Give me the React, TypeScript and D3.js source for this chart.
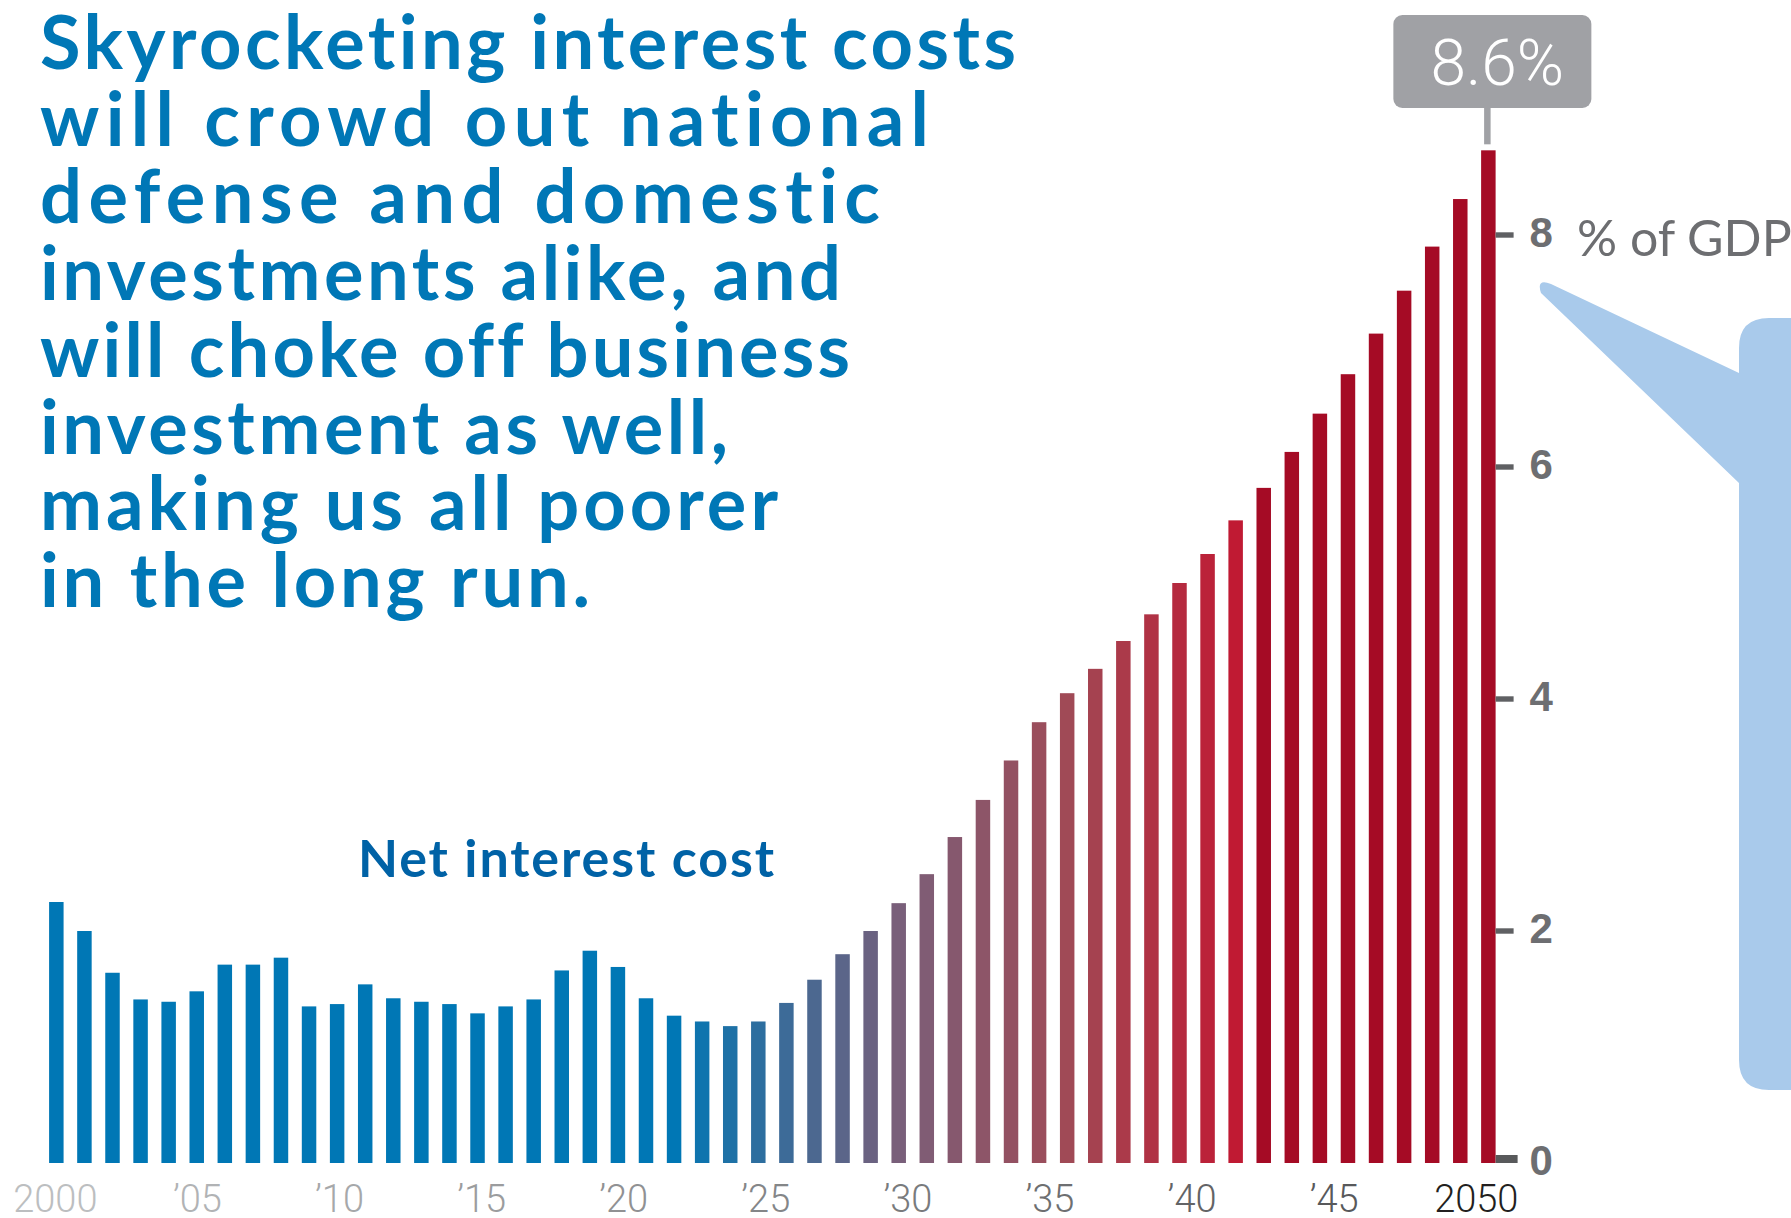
import React from "react";
import * as d3 from "d3";

// ---------- data ----------
const years = [
  2000, 2001, 2002, 2003, 2004, 2005, 2006, 2007, 2008, 2009,
  2010, 2011, 2012, 2013, 2014, 2015, 2016, 2017, 2018, 2019,
  2020, 2021, 2022, 2023, 2024, 2025, 2026, 2027, 2028, 2029,
  2030, 2031, 2032, 2033, 2034, 2035, 2036, 2037, 2038, 2039,
  2040, 2041, 2042, 2043, 2044, 2045, 2046, 2047, 2048, 2049,
  2050, 2051,
];
// Net interest cost, % of GDP
const netInterest = [
  2.25, 2.0, 1.64, 1.41, 1.39, 1.48, 1.71, 1.71, 1.77, 1.35,
  1.37, 1.54, 1.42, 1.39, 1.37, 1.29, 1.35, 1.41, 1.66, 1.83,
  1.69, 1.42, 1.27, 1.22, 1.18, 1.22, 1.38, 1.58, 1.8, 2.0,
  2.24, 2.49, 2.81, 3.13, 3.47, 3.8, 4.05, 4.26, 4.5, 4.73,
  5.0, 5.25, 5.54, 5.82, 6.13, 6.46, 6.8, 7.15, 7.52, 7.9,
  8.31, 8.73,
];
const xTickYears = [2000, 2005, 2010, 2015, 2020, 2025, 2030, 2035, 2040, 2045, 2050];
const xTickLabels = ["2000", "\u201905", "\u201910", "\u201915", "\u201920", "\u201925", "\u201930", "\u201935", "\u201940", "\u201945", "2050"];
const yTicks = [0, 2, 4, 6, 8];
const yUnitLabel = "% of GDP";
const calloutLabel = "8.6%";
const seriesLabel = "Net interest cost";
const titleLines = [
  "Skyrocketing interest costs",
  "will crowd out national",
  "defense and domestic",
  "investments alike, and",
  "will choke off business",
  "investment as well,",
  "making us all poorer",
  "in the long run.",
];

// ---------- layout / style ----------
const W = 1791;
const H = 1218;
const X0 = 42.3;
const X1 = 1502.4;
const Y0 = 1163;
const Y8 = 235;
const TITLE_WIDTHS = [976, 889, 840, 801, 810, 688, 738, 550];

const BLUE = "#0077b5";
const DARK_RED = "#a50b25";
const noLig = { fontVariantLigatures: "none" as const, fontFeatureSettings: '"liga" 0, "clig" 0' };

export default function App() {
  const x = d3
    .scaleBand<number>()
    .domain(years)
    .range([X0, X1])
    .paddingInner(0.484)
    .paddingOuter(0.242);
  const y = d3.scaleLinear().domain([0, 8]).range([Y0, Y8]);
  const bw = x.bandwidth();
  const cx = (yr: number) => (x(yr) as number) + bw / 2;

  const transition = d3
    .scaleLinear<string>()
    .domain([2022, 2030, 2036, 2042])
    .range([BLUE, "#795f7a", "#a04a56", "#c01a33"])
    .interpolate(d3.interpolateRgb)
    .clamp(true);
  const barColor = (yr: number) =>
    yr <= 2022 ? BLUE : yr >= 2043 ? DARK_RED : transition(yr);

  const labelX = d3
    .scaleLinear()
    .domain([2000, 2050])
    .range([cx(2000) - 1, cx(2050) + 16]);
  const labelColor = d3
    .scaleLinear<string>()
    .domain([2000, 2045, 2050])
    .range(["#bcbec0", "#58595b", "#231f20"])
    .interpolate(d3.interpolateRgb);

  const lastYear = years[years.length - 1];
  const lastVal = netInterest[netInterest.length - 1];
  const axisX = (x(lastYear) as number) + bw;
  const calloutCx = cx(lastYear) + 4;
  const calloutW = 198;
  const calloutH = 93;
  const calloutTop = 15;

  // speech-bubble shape at right
  const bubble = [
    "M 1800 318",
    "L 1769 318",
    "Q 1739 318 1739 348",
    "L 1739 373",
    "L 1551 284",
    "Q 1536 278 1541 293",
    "L 1739 483",
    "L 1739 1060",
    "Q 1739 1090 1769 1090",
    "L 1800 1090",
    "Z",
  ].join(" ");

  return (
    <svg
      width={W}
      height={H}
      viewBox={`0 0 ${W} ${H}`}
      style={{ position: "absolute", left: 0, top: 0, display: "block", background: "#fff" }}
    >
      <rect x={0} y={0} width={W} height={H} fill="#ffffff" />

      {/* bubble */}
      <path d={bubble} fill="#a9caeb" />

      {/* title */}
      <g fontFamily="Lato, 'Open Sans', sans-serif" fontWeight={700} fontSize={74} fill="#0077b6" style={noLig}>
        {titleLines.map((t, i) => (
          <text
            key={i}
            x={40}
            y={69 + i * 76.9}
            textLength={TITLE_WIDTHS[i]}
            lengthAdjust="spacing"
            style={noLig}
          >
            {t}
          </text>
        ))}
      </g>

      {/* series label */}
      <text
        x={358}
        y={877}
        fontFamily="Lato, 'Open Sans', sans-serif"
        fontWeight={700}
        fontSize={52}
        textLength={416}
        lengthAdjust="spacing"
        fill="#0062a6"
        style={noLig}
      >
        {seriesLabel}
      </text>

      {/* bars */}
      <g>
        {years.map((yr, i) => (
          <rect
            key={yr}
            x={x(yr)}
            y={y(netInterest[i])}
            width={bw}
            height={Y0 - y(netInterest[i])}
            fill={barColor(yr)}
          />
        ))}
      </g>

      {/* y axis ticks */}
      <g>
        {yTicks.map((t) =>
          t === 0 ? (
            <rect key={t} x={axisX} y={y(0) - 8} width={22} height={8} fill="#58595b" />
          ) : (
            <rect key={t} x={axisX} y={y(t) - 2.7} width={18} height={5.4} fill="#5f6063" />
          )
        )}
        {yTicks.map((t) => (
          <text
            key={"l" + t}
            x={axisX + 34}
            y={y(t) + 12}
            fontFamily="'Liberation Sans', Arial, sans-serif"
            fontWeight={700}
            fontSize={42}
            fill="#6d6e71"
          >
            {t}
          </text>
        ))}
        <text
          x={1577}
          y={256}
          fontFamily="Lato, 'Open Sans', sans-serif"
          fontWeight={400}
          fontSize={50}
          fill="#6d6e71"
        >
          {yUnitLabel}
        </text>
      </g>

      {/* x axis labels */}
      <g fontFamily="Roboto, 'Liberation Sans', sans-serif" fontWeight={300} fontSize={38} textAnchor="middle">
        {xTickYears.map((yr, i) => (
          <text key={yr} x={labelX(yr)} y={1212} fill={labelColor(yr)}>
            {xTickLabels[i]}
          </text>
        ))}
      </g>

      {/* callout */}
      <g>
        <line
          x1={calloutCx - 5}
          x2={calloutCx - 5}
          y1={calloutTop + calloutH}
          y2={y(lastVal) - 6}
          stroke="#a0a1a5"
          strokeWidth={6.5}
        />
        <rect
          x={calloutCx - calloutW / 2}
          y={calloutTop}
          width={calloutW}
          height={calloutH}
          rx={9}
          fill="#a0a1a5"
        />
        <text
          x={calloutCx + 5}
          y={85}
          textAnchor="middle"
          fontFamily="Roboto, 'Liberation Sans', sans-serif"
          fontWeight={300}
          fontSize={64}
          fill="#ffffff"
        >
          {calloutLabel}
        </text>
      </g>
    </svg>
  );
}
